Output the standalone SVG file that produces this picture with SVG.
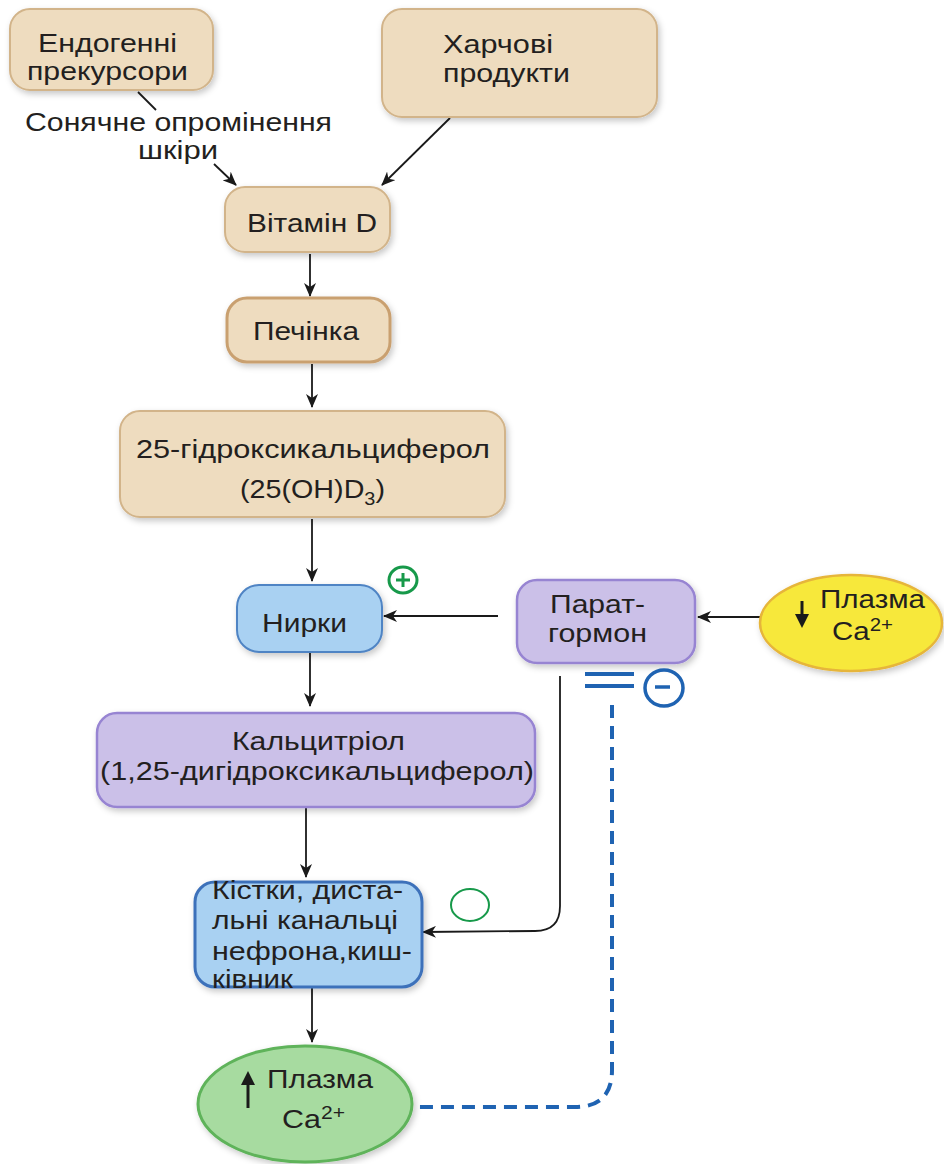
<svg xmlns="http://www.w3.org/2000/svg" width="944" height="1164" viewBox="0 0 944 1164">
<defs>
<filter id="sh" x="-10%" y="-10%" width="125%" height="130%">
<feDropShadow dx="2" dy="3" stdDeviation="3" flood-color="#000" flood-opacity="0.22"/>
</filter>
<marker id="ah" markerWidth="14" markerHeight="12" refX="13" refY="6" orient="auto" markerUnits="userSpaceOnUse">
<path d="M0,0 L14,6 L0,12 L4,6 Z" fill="#1a1a1a"/>
</marker>
</defs>
<style>
text{font-family:"Liberation Sans",Arial,sans-serif;fill:#231f20;font-size:26px}
.tan{fill:#eedcbf;stroke:#d2b48a;stroke-width:2}
.blue{fill:#a9d1f2;stroke:#4f84c4;stroke-width:2}
.lav{fill:#cbc0e8;stroke:#9784d2;stroke-width:2.5}
.ln{stroke:#1a1a1a;stroke-width:1.8;fill:none}
.arr{stroke:#1a1a1a;stroke-width:1.8;fill:none;marker-end:url(#ah)}
</style>
<rect width="944" height="1164" fill="#fff"/>

<g id="connectors">
<path class="ln" d="M138,92 L156,110"/>
<path class="arr" d="M214,164 L236,185"/>
<path class="arr" d="M450,118 L382,185"/>
<path class="arr" d="M310,254 L310,296"/>
<path class="arr" d="M312,364 L312,407"/>
<path class="arr" d="M312,519 L312,581"/>
<path class="arr" d="M498,616 L384,616"/>
<path class="arr" d="M760,617 L698,617"/>
<path class="arr" d="M310,653 L310,706"/>
<path class="arr" d="M306,808 L306,877"/>
<path class="arr" d="M560,676 L560,906 Q560,931 535,931 L423,932"/>
<path class="arr" d="M312,988 L312,1042"/>
<path d="M612,705 L612,1070 Q612,1107 575,1107 L418,1107" fill="none" stroke="#1f63b2" stroke-width="4" stroke-dasharray="13,8"/>
</g>

<g id="endo">
<rect class="tan" x="10" y="9" width="203" height="81" rx="20" filter="url(#sh)"/>
<text x="38" y="52" textLength="139" lengthAdjust="spacingAndGlyphs">Ендогенні</text>
<text x="27" y="80" textLength="161" lengthAdjust="spacingAndGlyphs">прекурсори</text>
</g>

<g id="sun">
<text x="25" y="131" textLength="307" lengthAdjust="spacingAndGlyphs">Сонячне опромінення</text>
<text x="138" y="159" textLength="80" lengthAdjust="spacingAndGlyphs">шкіри</text>
</g>

<g id="food">
<rect class="tan" x="382" y="9" width="275" height="108" rx="20" filter="url(#sh)"/>
<text x="443" y="53" textLength="110" lengthAdjust="spacingAndGlyphs">Харчові</text>
<text x="443" y="82" textLength="127" lengthAdjust="spacingAndGlyphs">продукти</text>
</g>

<g id="vitd">
<rect class="tan" x="225" y="187" width="165" height="65" rx="20" filter="url(#sh)"/>
<text x="247" y="232" textLength="130" lengthAdjust="spacingAndGlyphs">Вітамін D</text>
</g>

<g id="liver">
<rect x="227" y="298" width="163" height="64" rx="20" fill="#eedcbf" stroke="#c9a070" stroke-width="3" filter="url(#sh)"/>
<text x="253" y="340" textLength="106" lengthAdjust="spacingAndGlyphs">Печінка</text>
</g>

<g id="hc">
<rect class="tan" x="120" y="411" width="385" height="106" rx="20" filter="url(#sh)"/>
<text x="136" y="458" textLength="354" lengthAdjust="spacingAndGlyphs">25-гідроксикальциферол</text>
<text x="240" y="498" textLength="145" lengthAdjust="spacingAndGlyphs">(25(OH)D<tspan font-size="18" dy="7">3</tspan><tspan dy="-7">)</tspan></text>
</g>

<g id="kidney">
<rect class="blue" x="237" y="585" width="145" height="67" rx="22" filter="url(#sh)"/>
<text x="262" y="632" textLength="85" lengthAdjust="spacingAndGlyphs">Нирки</text>
</g>

<g id="plus">
<ellipse cx="403" cy="580" rx="14" ry="13" fill="none" stroke="#17994a" stroke-width="3"/>
<path d="M396,580 H410 M403,573 V587" stroke="#17994a" stroke-width="3"/>
</g>

<g id="pth">
<rect class="lav" x="517" y="580" width="178" height="83" rx="20" filter="url(#sh)"/>
<text x="550" y="613" textLength="95" lengthAdjust="spacingAndGlyphs">Парат-</text>
<text x="548" y="642" textLength="99" lengthAdjust="spacingAndGlyphs">гормон</text>
</g>

<g id="lowca">
<ellipse cx="851" cy="623" rx="91" ry="48" fill="#f7e83a" stroke="#e6b53a" stroke-width="2.5" filter="url(#sh)"/>
<path d="M802,601 V616" stroke="#1a1a1a" stroke-width="3"/>
<path d="M795,614 L802,628 L809,614 Z" fill="#1a1a1a"/>
<text x="820" y="608" textLength="105" lengthAdjust="spacingAndGlyphs">Плазма</text>
<text x="832" y="640" textLength="61" lengthAdjust="spacingAndGlyphs">Ca<tspan font-size="18" dy="-9">2+</tspan></text>
</g>

<g id="minus">
<path d="M585,674 H634 M585,686 H634" stroke="#1f63b2" stroke-width="4"/>
<ellipse cx="664" cy="688" rx="19" ry="18" fill="none" stroke="#1f63b2" stroke-width="3.5"/>
<path d="M655,687 H670" stroke="#1f63b2" stroke-width="3.5"/>
</g>

<g id="calcitriol">
<rect class="lav" x="97" y="713" width="438" height="94" rx="20" filter="url(#sh)"/>
<text x="232" y="750" textLength="173" lengthAdjust="spacingAndGlyphs">Кальцитріол</text>
<text x="100" y="780" textLength="434" lengthAdjust="spacingAndGlyphs">(1,25-дигідроксикальциферол)</text>
</g>

<g id="bones">
<rect x="195" y="882" width="227" height="105" rx="20" fill="#a9d1f2" stroke="#3d71ba" stroke-width="3" filter="url(#sh)"/>
<text x="212" y="899" textLength="191" lengthAdjust="spacingAndGlyphs">Кістки, диста-</text>
<text x="212" y="929" textLength="186" lengthAdjust="spacingAndGlyphs">льні канальці</text>
<text x="212" y="960" textLength="200" lengthAdjust="spacingAndGlyphs">нефрона,киш-</text>
<text x="212" y="988" textLength="81" lengthAdjust="spacingAndGlyphs">ківник</text>
</g>

<g id="empty">
<ellipse cx="470" cy="905" rx="19" ry="16" fill="none" stroke="#17994a" stroke-width="2"/>
</g>

<g id="highca">
<ellipse cx="305" cy="1104" rx="107" ry="58" fill="#a7dba0" stroke="#5eb35a" stroke-width="3" filter="url(#sh)"/>
<path d="M248,1108 V1082" stroke="#1a1a1a" stroke-width="3"/>
<path d="M241,1085 L248,1071 L255,1085 Z" fill="#1a1a1a"/>
<text x="267" y="1088" textLength="106" lengthAdjust="spacingAndGlyphs">Плазма</text>
<text x="282" y="1128" textLength="63" lengthAdjust="spacingAndGlyphs">Ca<tspan font-size="18" dy="-9">2+</tspan></text>
</g>
</svg>
